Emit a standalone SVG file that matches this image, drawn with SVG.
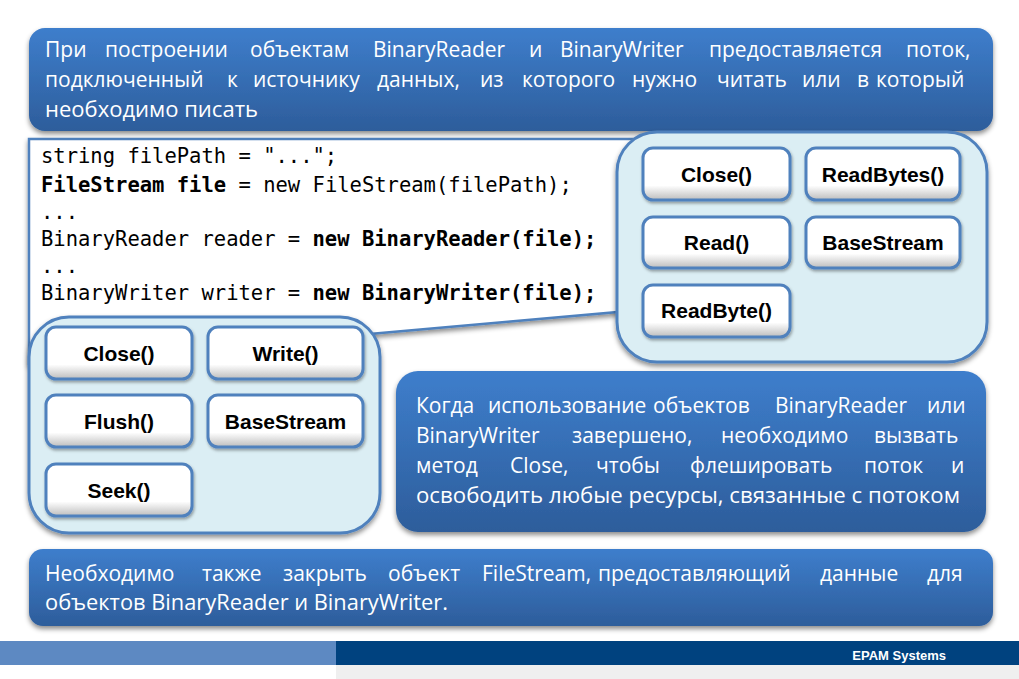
<svg xmlns="http://www.w3.org/2000/svg" width="1019" height="679" viewBox="0 0 1019 679">
<style>
.body{font-family:"Open Sans","Liberation Sans",sans-serif;font-size:21px;fill:#ffffff}
.code{font-family:"DejaVu Sans Mono","Liberation Mono",monospace;font-size:20.5px;fill:#000000}
.b{font-weight:bold}
.btnt{font-family:"Liberation Sans","Noto Sans",sans-serif;font-size:21px;font-weight:bold;fill:#000000;text-anchor:middle}
.panel{fill:#dbeef4;stroke:#4f81bd;stroke-width:3}
.btn{fill:url(#btnG);stroke:#4f81bd;stroke-width:3}
.blue{fill:url(#blueG)}
</style>
<defs>
<linearGradient id="blueG" x1="0" y1="0" x2="0" y2="1">
<stop offset="0" stop-color="#3e7ecc"/>
<stop offset="1" stop-color="#2d5d9b"/>
</linearGradient>
<linearGradient id="btnG" x1="0" y1="0" x2="0" y2="1">
<stop offset="0" stop-color="#ffffff"/>
<stop offset="0.72" stop-color="#ffffff"/>
<stop offset="1" stop-color="#bdbdbd"/>
</linearGradient>
<filter id="sh" x="-5%" y="-10%" width="110%" height="130%">
<feDropShadow dx="0" dy="3" stdDeviation="2.5" flood-color="#000" flood-opacity="0.45"/>
</filter>
<filter id="shs" x="-5%" y="-10%" width="115%" height="130%">
<feDropShadow dx="1" dy="2" stdDeviation="1.5" flood-color="#000" flood-opacity="0.35"/>
</filter>
</defs>
<rect width="1019" height="679" fill="#ffffff"/>

<g id="code-box">
<polygon points="29,139 640,139 640,310 29,364" fill="#ffffff" stroke="#4f81bd" stroke-width="2.5" filter="url(#sh)"/>
<text class="code" x="41" y="163">string filePath = "...";</text>
<text class="code" x="41" y="192"><tspan class="b">FileStream file</tspan> = new FileStream(filePath);</text>
<text class="code" x="41" y="219">...</text>
<text class="code" x="41" y="246">BinaryReader reader = <tspan class="b">new BinaryReader(file);</tspan></text>
<text class="code" x="41" y="273">...</text>
<text class="code" x="41" y="300">BinaryWriter writer = <tspan class="b">new BinaryWriter(file);</tspan></text>
</g>

<g id="top-banner">
<rect class="blue" x="29" y="28" width="964" height="103" rx="16" filter="url(#sh)"/>
<text class="body" y="57"><tspan x="45">При</tspan><tspan x="105">построении</tspan><tspan x="250">объектам</tspan><tspan x="373">BinaryReader</tspan><tspan x="529">и</tspan><tspan x="560">BinaryWriter</tspan><tspan x="709">предоставляется</tspan><tspan x="906">поток,</tspan></text>
<text class="body" y="87"><tspan x="45">подключенный</tspan><tspan x="227">к</tspan><tspan x="253">источнику</tspan><tspan x="377">данных,</tspan><tspan x="480">из</tspan><tspan x="522">которого</tspan><tspan x="632">нужно</tspan><tspan x="717">читать</tspan><tspan x="802">или</tspan><tspan x="857">в</tspan><tspan x="876">который</tspan></text>
<text class="body" x="45" y="117" textLength="213" lengthAdjust="spacingAndGlyphs">необходимо писать</text>
</g>

<g id="reader-panel">
<rect class="panel" x="617" y="132" width="370" height="230" rx="40" filter="url(#sh)"/>
</g>
<g id="reader-close">
<rect class="btn" x="643" y="148" width="147" height="52" rx="10" filter="url(#shs)"/>
<text class="btnt" x="716.5" y="182">Close()</text>
</g>
<g id="reader-readbytes">
<rect class="btn" x="806" y="148" width="154" height="52" rx="10" filter="url(#shs)"/>
<text class="btnt" x="883" y="182">ReadBytes()</text>
</g>
<g id="reader-read">
<rect class="btn" x="643" y="217" width="147" height="51" rx="10" filter="url(#shs)"/>
<text class="btnt" x="716.5" y="250">Read()</text>
</g>
<g id="reader-basestream">
<rect class="btn" x="806" y="217" width="154" height="51" rx="10" filter="url(#shs)"/>
<text class="btnt" x="883" y="250">BaseStream</text>
</g>
<g id="reader-readbyte">
<rect class="btn" x="643" y="285" width="147" height="52" rx="10" filter="url(#shs)"/>
<text class="btnt" x="716.5" y="318">ReadByte()</text>
</g>

<g id="writer-panel">
<rect class="panel" x="29" y="317" width="351" height="216" rx="40" filter="url(#sh)"/>
</g>
<g id="writer-close">
<rect class="btn" x="46" y="327" width="146" height="52" rx="10" filter="url(#shs)"/>
<text class="btnt" x="119" y="361">Close()</text>
</g>
<g id="writer-write">
<rect class="btn" x="208" y="327" width="155" height="52" rx="10" filter="url(#shs)"/>
<text class="btnt" x="285.5" y="361">Write()</text>
</g>
<g id="writer-flush">
<rect class="btn" x="46" y="395" width="146" height="52" rx="10" filter="url(#shs)"/>
<text class="btnt" x="119" y="429">Flush()</text>
</g>
<g id="writer-basestream">
<rect class="btn" x="208" y="395" width="155" height="52" rx="10" filter="url(#shs)"/>
<text class="btnt" x="285.5" y="429">BaseStream</text>
</g>
<g id="writer-seek">
<rect class="btn" x="46" y="464" width="146" height="52" rx="10" filter="url(#shs)"/>
<text class="btnt" x="119" y="498">Seek()</text>
</g>

<g id="close-note">
<rect class="blue" x="396" y="371" width="590" height="161" rx="22" filter="url(#sh)"/>
<text class="body" y="413"><tspan x="416">Когда</tspan><tspan x="488">использование</tspan><tspan x="653">объектов</tspan><tspan x="775">BinaryReader</tspan><tspan x="927">или</tspan></text>
<text class="body" y="443"><tspan x="416">BinaryWriter</tspan><tspan x="572">завершено,</tspan><tspan x="721">необходимо</tspan><tspan x="874">вызвать</tspan></text>
<text class="body" y="473"><tspan x="416">метод</tspan><tspan x="510">Close,</tspan><tspan x="596">чтобы</tspan><tspan x="690">флешировать</tspan><tspan x="864">поток</tspan><tspan x="951">и</tspan></text>
<text class="body" x="416" y="503" textLength="544" lengthAdjust="spacingAndGlyphs">освободить любые ресурсы, связанные с потоком</text>
</g>

<g id="filestream-note">
<rect class="blue" x="29" y="549" width="964" height="77" rx="14" filter="url(#sh)"/>
<text class="body" y="581"><tspan x="45">Необходимо</tspan><tspan x="202">также</tspan><tspan x="283">закрыть</tspan><tspan x="388">объект</tspan><tspan x="482">FileStream,</tspan><tspan x="598">предоставляющий</tspan><tspan x="820">данные</tspan><tspan x="927">для</tspan></text>
<text class="body" x="45" y="610" textLength="403" lengthAdjust="spacingAndGlyphs">объектов BinaryReader и BinaryWriter.</text>
</g>

<g id="connectors"></g>

<g id="footer">
<rect x="0" y="641" width="336" height="24" fill="#5d89c2"/>
<rect x="336" y="641" width="683" height="24" fill="#00427f"/>
<rect x="336" y="665" width="683" height="14" fill="#efefef"/>
<text x="946" y="660" text-anchor="end" font-family="Liberation Sans, Arial, sans-serif" font-size="13" font-weight="bold" fill="#ffffff">EPAM Systems</text>
</g>
</svg>
